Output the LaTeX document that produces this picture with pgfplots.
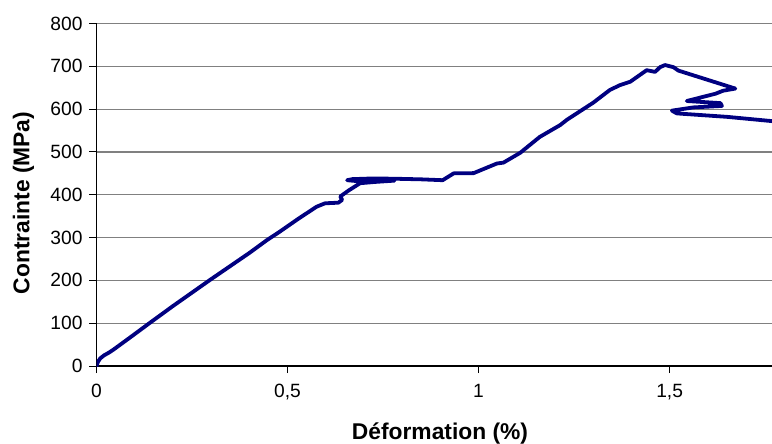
\documentclass[border=0pt]{standalone}
\usepackage{fontspec}
\setmainfont{Liberation Sans}
\usepackage{pgfplots}
\pgfplotsset{compat=1.18}
\definecolor{curve}{RGB}{0,0,128}
\definecolor{gridc}{RGB}{128,128,128}
\begin{document}
\begin{tikzpicture}
\begin{axis}[
  scale only axis,
  width=337.75bp, height=171.25bp,
  xmin=0, xmax=1.768, ymin=0, ymax=800,
  axis x line*=bottom, axis y line*=left,
  axis line style={black, line width=0.6bp},
  xtick={0,0.5,1,1.5}, xticklabels={0,{0,5},1,{1,5}},
  ytick={0,100,...,800},
  tick align=outside, major tick length=3.5bp,
  tick style={black, line width=0.5bp},
  ymajorgrids, grid style={gridc, line width=0.6bp},
  /pgf/number format/assume math mode=true,
  tick label style={font=\fontsize{9.6bp}{11bp}\selectfont},
  xticklabel style={yshift=-2bp},
  xlabel={Déformation (\%)}, ylabel={Contrainte (MPa)},
  label style={font=\fontsize{11.4bp}{13bp}\selectfont\bfseries},
  xlabel style={at={(axis description cs:0.5085,0)}, anchor=base, yshift=-36.5bp},
  ylabel style={at={(axis description cs:-0.0995,0.476)}, anchor=base},
  clip=true,
]
\coordinate (SW) at (rel axis cs:0,0);
\coordinate (NE) at (rel axis cs:1,1);
\addplot[curve, line width=1.9bp, line join=round, line cap=round] coordinates {
(0,0) (0.004,10) (0.01,18) (0.02,25) (0.032,31) (0.044,38) (0.09,68) (0.14,101)
(0.2,140) (0.297,201) (0.4,264) (0.446,294) (0.48,314) (0.53,345) (0.576,372)
(0.598,380) (0.633,381.5) (0.643,388) (0.638,396) (0.66,410) (0.69,427)
(0.73,430) (0.78,433) (0.74,431) (0.68,432) (0.656,434) (0.67,436.5)
(0.72,438) (0.777,437.5) (0.85,436) (0.906,434) (0.935,450) (0.987,450.5)
(1.048,473) (1.065,475) (1.109,498) (1.16,535) (1.214,563) (1.231,575)
(1.30,615) (1.344,645) (1.370,656) (1.397,664) (1.440,691) (1.462,687)
(1.475,698) (1.488,703) (1.51,698) (1.523,690) (1.672,648) (1.64,643)
(1.62,636) (1.545,619) (1.633,614) (1.637,607.5) (1.562,604) (1.506,596.5)
(1.519,590) (1.65,582) (1.768,572)
};
\end{axis}
\pgfresetboundingbox
\path ([xshift=-48.25bp,yshift=-39bp]SW) rectangle ([yshift=11.75bp]NE);
\end{tikzpicture}
\end{document}
